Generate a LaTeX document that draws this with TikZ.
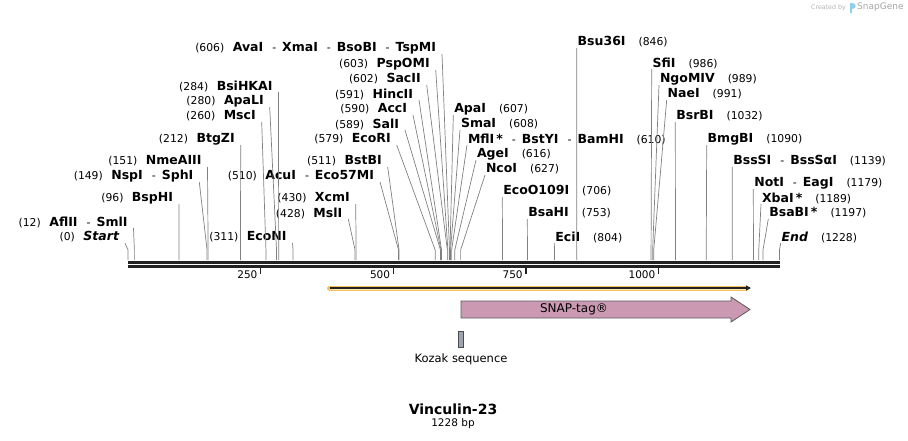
\documentclass[tikz,border=0pt]{standalone}
\usepackage{fontspec}
\setmainfont{DejaVu Sans}
\usetikzlibrary{arrows.meta,positioning}
\definecolor{cutgray}{RGB}{128,128,128}
\definecolor{bbdark}{RGB}{34,34,34}
\definecolor{snapfill}{RGB}{204,153,179}
\definecolor{orfglow}{RGB}{247,190,95}
\definecolor{orfpale}{RGB}{253,232,168}
\definecolor{kozfill}{RGB}{158,165,176}
\definecolor{logoblue}{RGB}{140,205,240}

\newcommand{\cnum}[1]{{\fontsize{10.8}{12}\selectfont(#1)}}
\newcommand{\cname}[1]{{\fontsize{12.5}{14}\selectfont\bfseries #1}}
\newcommand{\ensep}{\hspace{9pt}{\fontsize{11}{12}\selectfont-}\hspace{6pt}}
\newcommand{\lgap}{\hspace{8.5pt}}
\newcommand{\rgap}{\hspace{13pt}}

\tikzset{
  lbl/.style={inner sep=0pt, outer sep=0pt},
  cutline/.style={draw=cutgray, line width=0.7pt},
  backbone/.style={draw=bbdark, line width=2.3pt},
  tickline/.style={draw=bbdark, line width=1.3pt},
  ticklbl/.style={inner sep=0pt, anchor=east, font=\fontsize{10.5}{12}\selectfont},
  featlbl/.style={inner sep=0pt, font=\fontsize{11.5}{13}\selectfont}
}

\begin{document}
\begin{tikzpicture}[x=1pt, y=-1pt]
	\useasboundingbox (0,0) rectangle (908,440);
	% cut sites on the upper strand
	\foreach \b in {0,12,96,149,151,212,260,280,284,311,428,430,510,511,579,589,590,591,602,603,606,607,608,610,616,627,706,753,804,846,986,989,991,1032,1090,1139,1179,1189,1197,1228}
		\coordinate (s\b) at ({128+0.5305*\b},260);
	
	% backbone and ruler
	\coordinate (bbL) at (128,262.5);
	\coordinate (bbR) at (780,262.5);
	\draw[backbone] (bbL) -- (bbR);
	\draw[backbone] ([yshift=-4pt]bbL) -- ([yshift=-4pt]bbR);
	\foreach \t in {250,500,750,1000} {
		\draw[tickline] ({128+0.5305*\t},267.5) -- ++(0,6);
		\node[ticklbl] (t\t) at ({128+0.5305*\t-3},275) {\t};
	}
	
	\begin{scope}[every node/.style={lbl, anchor=east}]
		\node (Start) at (119,237) {\cnum{0}\lgap\cname{\itshape Start}};
		\node (AflII) at (127.5,222) {\cnum{12}\lgap\cname{AflII}\ensep\cname{SmlI}};
		\node (BspHI) at (173,198) {\cnum{96}\lgap\cname{BspHI}};
		\node (NspI) at (193.3,176) {\cnum{149}\lgap\cname{NspI}\ensep\cname{SphI}};
		\node (NmeAIII) at (201.5,161) {\cnum{151}\lgap\cname{NmeAIII}};
		\node (BtgZI) at (234.7,139) {\cnum{212}\lgap\cname{BtgZI}};
		\node (MscI) at (255.7,116) {\cnum{260}\lgap\cname{MscI}};
		\node (ApaLI) at (263.7,101) {\cnum{280}\lgap\cname{ApaLI}};
		\node (BsiHKAI) at (272.5,86) {\cnum{284}\lgap\cname{BsiHKAI}};
		\node (EcoNI) at (286.5,237) {\cnum{311}\lgap\cname{EcoNI}};
		\node (MslI) at (342.3,213) {\cnum{428}\lgap\cname{MslI}};
		\node (XcmI) at (349.7,198) {\cnum{430}\lgap\cname{XcmI}};
		\node (AcuI) at (374,176) {\cnum{510}\lgap\cname{AcuI}\ensep\cname{Eco57MI}};
		\node (BstBI) at (381.7,161) {\cnum{511}\lgap\cname{BstBI}};
		\node (EcoRI) at (390.7,139) {\cnum{579}\lgap\cname{EcoRI}};
		\node (SalI) at (399,124) {\cnum{589}\lgap\cname{SalI}};
		\node (AccI) at (407,109) {\cnum{590}\lgap\cname{AccI}};
		\node (HincII) at (413,94) {\cnum{591}\lgap\cname{HincII}};
		\node (SacII) at (420.7,79) {\cnum{602}\lgap\cname{SacII}};
		\node (PspOMI) at (429.7,64) {\cnum{603}\lgap\cname{PspOMI}};
		\node (AvaI) at (436,48) {\cnum{606}\lgap\cname{AvaI}\ensep\cname{XmaI}\ensep\cname{BsoBI}\ensep\cname{TspMI}};
	\end{scope}
	
	\begin{scope}[every node/.style={lbl, anchor=west}]
		\node (ApaI) at (454.3,109) {\cname{ApaI}\rgap\cnum{607}};
		\node (SmaI) at (461,124) {\cname{SmaI}\rgap\cnum{608}};
		\node (MflI) at (468,139) {\cname{MflI\,*}\ensep\cname{BstYI}\ensep\cname{BamHI}\rgap\cnum{610}};
		\node (AgeI) at (477,154) {\cname{AgeI}\rgap\cnum{616}};
		\node (NcoI) at (486,169) {\cname{NcoI}\rgap\cnum{627}};
		\node (EcoO109I) at (503.3,191) {\cname{EcoO109I}\rgap\cnum{706}};
		\node (BsaHI) at (528.3,213) {\cname{BsaHI}\rgap\cnum{753}};
		\node (EciI) at (555.3,237) {\cname{EciI}\rgap\cnum{804}};
		\node (Bsu36I) at (577.7,42) {\cname{Bsu36I}\rgap\cnum{846}};
		\node (SfiI) at (652.7,63) {\cname{SfiI}\rgap\cnum{986}};
		\node (NgoMIV) at (660,79) {\cname{NgoMIV}\rgap\cnum{989}};
		\node (NaeI) at (667.7,94) {\cname{NaeI}\rgap\cnum{991}};
		\node (BsrBI) at (676.3,116) {\cname{BsrBI}\rgap\cnum{1032}};
		\node (BmgBI) at (707.7,139) {\cname{BmgBI}\rgap\cnum{1090}};
		\node (BssSI) at (733.3,161) {\cname{BssSI}\ensep\cname{BssSαI}\rgap\cnum{1139}};
		\node (NotI) at (754.3,183) {\cname{NotI}\ensep\cname{EagI}\rgap\cnum{1179}};
		\node (XbaI) at (762,198) {\cname{XbaI\,*}\rgap\cnum{1189}};
		\node (BsaBI) at (769.3,213) {\cname{BsaBI\,*}\rgap\cnum{1197}};
		\node (End) at (781.7,237) {\cname{\itshape End}\rgap\cnum{1228}};
	\end{scope}
	
	% leader lines, left labels
	\draw[cutline] ([shift={(6,6)}]Start.east) -- ([yshift=10pt]s0) -- (s0);
	\draw[cutline] ([shift={(6,6)}]AflII.east) -- ([yshift=10pt]s12) -- (s12);
	\draw[cutline] ([shift={(6,6)}]BspHI.east) -- ([yshift=10pt]s96) -- (s96);
	\draw[cutline] ([shift={(6,6)}]NspI.east) -- ([yshift=10pt]s149) -- (s149);
	\draw[cutline] ([shift={(6,6)}]NmeAIII.east) -- ([yshift=10pt]s151) -- (s151);
	\draw[cutline] ([shift={(6,6)}]BtgZI.east) -- ([yshift=10pt]s212) -- (s212);
	\draw[cutline] ([shift={(6,6)}]MscI.east) -- ([yshift=10pt]s260) -- (s260);
	\draw[cutline] ([shift={(6,6)}]ApaLI.east) -- ([yshift=10pt]s280) -- (s280);
	\draw[cutline] ([shift={(6,6)}]BsiHKAI.east) -- ([yshift=10pt]s284) -- (s284);
	\draw[cutline] ([shift={(6,6)}]EcoNI.east) -- ([yshift=10pt]s311) -- (s311);
	\draw[cutline] ([shift={(6,6)}]MslI.east) -- ([yshift=10pt]s428) -- (s428);
	\draw[cutline] ([shift={(6,6)}]XcmI.east) -- ([yshift=10pt]s430) -- (s430);
	\draw[cutline] ([shift={(6,6)}]AcuI.east) -- ([yshift=10pt]s510) -- (s510);
	\draw[cutline] ([shift={(6,6)}]BstBI.east) -- ([yshift=10pt]s511) -- (s511);
	\draw[cutline] ([shift={(6,6)}]EcoRI.east) -- ([yshift=10pt]s579) -- (s579);
	\draw[cutline] ([shift={(6,6)}]SalI.east) -- ([yshift=10pt]s589) -- (s589);
	\draw[cutline] ([shift={(6,6)}]AccI.east) -- ([yshift=10pt]s590) -- (s590);
	\draw[cutline] ([shift={(6,6)}]HincII.east) -- ([yshift=10pt]s591) -- (s591);
	\draw[cutline] ([shift={(6,6)}]SacII.east) -- ([yshift=10pt]s602) -- (s602);
	\draw[cutline] ([shift={(6,6)}]PspOMI.east) -- ([yshift=10pt]s603) -- (s603);
	\draw[cutline] ([shift={(6,6)}]AvaI.east) -- ([yshift=10pt]s606) -- (s606);
	% leader lines, right labels
	\draw[cutline] ([shift={(-1,6)}]ApaI.west) -- ([yshift=10pt]s607) -- (s607);
	\draw[cutline] ([shift={(-1,6)}]SmaI.west) -- ([yshift=10pt]s608) -- (s608);
	\draw[cutline] ([shift={(-1,6)}]MflI.west) -- ([yshift=10pt]s610) -- (s610);
	\draw[cutline] ([shift={(-1,6)}]AgeI.west) -- ([yshift=10pt]s616) -- (s616);
	\draw[cutline] ([shift={(-1,6)}]NcoI.west) -- ([yshift=10pt]s627) -- (s627);
	\draw[cutline] ([shift={(-1,6)}]EcoO109I.west) -- ([yshift=10pt]s706) -- (s706);
	\draw[cutline] ([shift={(-1,6)}]BsaHI.west) -- ([yshift=10pt]s753) -- (s753);
	\draw[cutline] ([shift={(-1,6)}]EciI.west) -- ([yshift=10pt]s804) -- (s804);
	\draw[cutline] ([shift={(-1,6)}]Bsu36I.west) -- ([yshift=10pt]s846) -- (s846);
	\draw[cutline] ([shift={(-1,6)}]SfiI.west) -- ([yshift=10pt]s986) -- (s986);
	\draw[cutline] ([shift={(-1,6)}]NgoMIV.west) -- ([yshift=10pt]s989) -- (s989);
	\draw[cutline] ([shift={(-1,6)}]NaeI.west) -- ([yshift=10pt]s991) -- (s991);
	\draw[cutline] ([shift={(-1,6)}]BsrBI.west) -- ([yshift=10pt]s1032) -- (s1032);
	\draw[cutline] ([shift={(-1,6)}]BmgBI.west) -- ([yshift=10pt]s1090) -- (s1090);
	\draw[cutline] ([shift={(-1,6)}]BssSI.west) -- ([yshift=10pt]s1139) -- (s1139);
	\draw[cutline] ([shift={(-1,6)}]NotI.west) -- ([yshift=10pt]s1179) -- (s1179);
	\draw[cutline] ([shift={(-1,6)}]XbaI.west) -- ([yshift=10pt]s1189) -- (s1189);
	\draw[cutline] ([shift={(-1,6)}]BsaBI.west) -- ([yshift=10pt]s1197) -- (s1197);
	\draw[cutline] ([shift={(-1,6)}]End.west) -- ([yshift=10pt]s1228) -- (s1228);
	
	% ORF
	\coordinate (orfL) at (329.5,288);
	\coordinate (orfR) at (746,288);
	\draw[orfglow, line width=5pt, line cap=round] (orfL) -- (orfR);
	\draw[orfpale, line width=3pt] (orfL) -- (orfR);
	\draw[bbdark, line width=1.1pt, -{Triangle[length=5pt,width=5pt]}] (orfL) -- ([xshift=5pt]orfR);
	
	% SNAP-tag feature
	\draw[draw=black!65, line width=0.8pt, fill=snapfill]
		(461,301) -- (731,301) -- (731,297) -- (750,309.5) -- (731,322) -- (731,318) -- (461,318) -- cycle;
	\node[featlbl, font=\fontsize{12}{13}\selectfont] (snap) at (574,309.5) {SNAP-tag®};
	
	% Kozak sequence
	\node[draw=black!70, line width=0.7pt, fill=kozfill, inner sep=0pt, minimum width=5.5pt, minimum height=16pt] (kozak) at (461,339) {};
	\node[featlbl, below=6pt of kozak] (kozlbl) {Kozak sequence};
	
	% title
	\node[inner sep=0pt, font=\fontsize{14}{16}\selectfont\bfseries] (title) at (453,409) {Vinculin-23};
	\node[inner sep=0pt, font=\fontsize{10.5}{12}\selectfont] (size) at (453,424) {1228 bp};
	
	% credit
	\node[inner sep=0pt, anchor=east, text=black!30, font=\fontsize{6.3}{7}\selectfont] (credit) at (846,7.5) {Created by};
	\fill[logoblue] (850,2.5) rectangle (852.3,13);
	\fill[logoblue] (852.3,2.5) .. controls (856.5,2.5) and (856.5,9) .. (852.3,9) -- cycle;
	\node[inner sep=0pt, anchor=west, text=black!35, font=\fontsize{9}{10}\selectfont] (brand) at (857,7.5) {SnapGene};
\end{tikzpicture}
\end{document}
